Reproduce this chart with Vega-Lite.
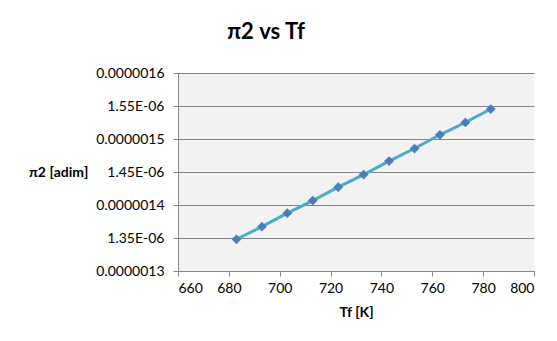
{
  "$schema": "https://vega.github.io/schema/vega-lite/v6.json",
  "width": 356,
  "height": 198,
  "padding": {"left": 29, "top": 21, "right": 20, "bottom": 10},
  "background": "white",
  "title": {
    "text": "π2 vs Tf",
    "font": "Lato",
    "fontSize": 22,
    "fontWeight": "bold",
    "color": "#000000",
    "anchor": "middle",
    "dx": -90,
    "offset": 22
  },
  "data": {
    "values": [
      {"Tf": 683, "pi2": 1.3481e-6},
      {"Tf": 693, "pi2": 1.3672e-6},
      {"Tf": 703, "pi2": 1.3876e-6},
      {"Tf": 713, "pi2": 1.4067e-6},
      {"Tf": 723, "pi2": 1.4270e-6},
      {"Tf": 733, "pi2": 1.4461e-6},
      {"Tf": 743, "pi2": 1.4665e-6},
      {"Tf": 753, "pi2": 1.4856e-6},
      {"Tf": 763, "pi2": 1.5064e-6},
      {"Tf": 773, "pi2": 1.5250e-6},
      {"Tf": 783, "pi2": 1.5454e-6}
    ]
  },
  "encoding": {
    "x": {
      "field": "Tf",
      "type": "quantitative",
      "scale": {"domain": [660, 800], "nice": false, "zero": false},
      "axis": {
        "title": "Tf [K]",
        "values": [660, 680, 700, 720, 740, 760, 780, 800],
        "grid": false,
        "domainColor": "#868686",
        "tickColor": "#868686",
        "tickSize": 5,
        "labelFont": "Lato",
        "labelFontSize": 14,
        "labelColor": "#000000",
        "labelPadding": 5,
        "titleFont": "Lato",
        "titleFontSize": 14,
        "titleFontWeight": "bold",
        "titleColor": "#000000",
        "titlePadding": 10
      }
    },
    "y": {
      "field": "pi2",
      "type": "quantitative",
      "scale": {"domain": [1.3e-6, 1.6e-6], "nice": false, "zero": false},
      "axis": {
        "title": "π2 [adim]",
        "values": [1.3e-6, 1.35e-6, 1.4e-6, 1.45e-6, 1.5e-6, 1.55e-6, 1.6e-6],
        "labelExpr": "abs(datum.value*1e7 - round(datum.value*1e7)) < 1e-6 ? format(datum.value, '.7f') : replace(format(datum.value, '.2e'), 'e-6', 'E-06')",
        "grid": true,
        "gridColor": "#868686",
        "gridWidth": 1,
        "domainColor": "#868686",
        "tickColor": "#868686",
        "tickSize": 5,
        "labelFont": "Lato",
        "labelFontSize": 14,
        "labelColor": "#000000",
        "labelPadding": 9,
        "titleFont": "Lato",
        "titleFontSize": 14,
        "titleFontWeight": "bold",
        "titleColor": "#000000",
        "titleAngle": 0,
        "titleAlign": "right",
        "titleBaseline": "middle",
        "titleX": -90,
        "titleY": 99
      }
    }
  },
  "layer": [
    {"mark": {"type": "line", "color": "#4BACC6", "strokeWidth": 3}},
    {"mark": {"type": "point", "shape": "diamond", "filled": true, "color": "#4A7EBB", "size": 95, "opacity": 1}}
  ],
  "config": {
    "view": {"fill": "#F2F2F2", "stroke": null}
  }
}
